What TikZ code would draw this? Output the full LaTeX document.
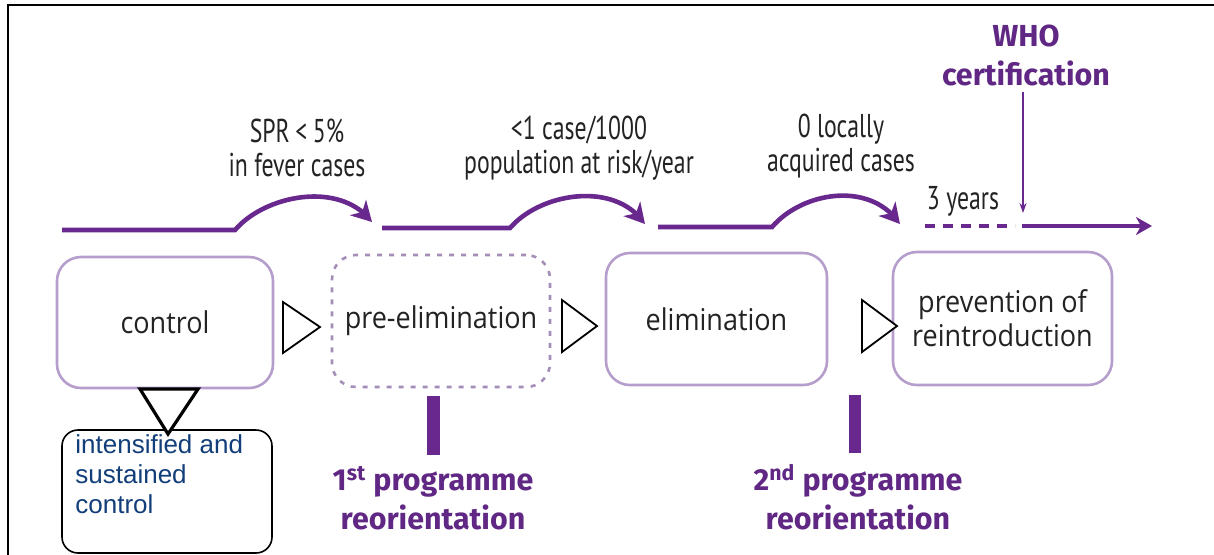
\documentclass[tikz,border=0pt]{standalone}
\usepackage{fontspec}
\usetikzlibrary{arrows.meta,bending}
\setmainfont{Liberation Sans}
\newfontfamily\condfont[FakeStretch=0.72]{PT Sans}
\newfontfamily\boxfont[FakeStretch=0.9]{Open Sans}
\newfontfamily\boldfont{Fira Sans}
\definecolor{pmain}{RGB}{104,40,142}
\definecolor{ptext}{RGB}{96,40,132}
\definecolor{pbox}{RGB}{182,158,204}
\definecolor{ink}{RGB}{35,35,35}
\definecolor{iblue}{RGB}{18,62,122}
\tikzset{
  stage/.style={draw=pbox, line width=1.3pt, rounded corners=12pt, text=ink,
    font=\boxfont\fontsize{15}{17}\selectfont, align=center, inner sep=0pt},
  tl/.style={draw=pmain, line width=2.3pt},
  tlarrow/.style={tl, -{Stealth[length=10pt,width=11pt,inset=3pt]}},
  cond/.style={font=\condfont\fontsize{16.5}{17}\selectfont, text=ink, align=center, inner sep=0pt},
  bold/.style={font=\boldfont\bfseries\fontsize{15.2}{19.5}\selectfont, text=ptext, align=center, inner sep=0pt},
  tri/.style={draw=black, line width=0.9pt, fill=white, line join=miter},
  bar/.style={fill=pmain}
}
\begin{document}
\begin{tikzpicture}[x=0.5pt,y=-0.5pt]
\useasboundingbox (0,0) rectangle (1214,554);
\fill[white] (0,0) rectangle (1214,554);
\draw[line width=1.2pt] (8,556) -- (8,5) -- (1216,5);

% stage boxes
\node[stage, minimum width=108pt, minimum height=65.5pt] (control) at (165,322.5) {control};
\node[stage, draw=pbox!90!black, dash pattern=on 2.5pt off 3.5pt, minimum width=109pt, minimum height=66pt] (preelim) at (441,321) {pre-elimination};
\node[stage, minimum width=110.5pt, minimum height=66pt] (elim) at (716.5,319) {elimination};
\node[stage, minimum width=109.5pt, minimum height=66.5pt] (prev) at (1002.5,318.5) {prevention of\\reintroduction};

% triangles between stages
\draw[tri] (283,302) -- (320,327) -- (283,353) -- cycle;
\draw[tri] (562,300) -- (597,326) -- (562,352) -- cycle;
\draw[tri] (862,300) -- (897,326) -- (862,352) -- cycle;

% intensified box
\node[draw=black, line width=0.8pt, rounded corners=8pt, minimum width=105pt, minimum height=61.5pt, inner sep=0pt] (intens) at (167,491.5) {};
\node[anchor=north west, inner sep=0pt, align=left, text=iblue, font=\fontsize{13}{15}\selectfont] (intext) at (75,434) {intensified and\\sustained\\control};
\draw[tri, line width=1.6pt] (140,389) -- (198,389) -- (168,434) -- cycle;

% timeline
\coordinate (a0) at (62,230); \coordinate (a1) at (235,230); \coordinate (a2) at (372,222);
\coordinate (b0) at (382,228); \coordinate (b1) at (510,228); \coordinate (b2) at (645,224);
\coordinate (c0) at (658,227); \coordinate (c1) at (772,227); \coordinate (c2) at (900,224);
\coordinate (d0) at (925,226); \coordinate (d1) at (1015,226);
\coordinate (e0) at (1022,226); \coordinate (e1) at (1152,226);
\draw[tlarrow] (a0) -- (a1) .. controls (265,195) and (340,180) .. (a2);
\draw[tlarrow] (b0) -- (b1) .. controls (540,193) and (615,180) .. (b2);
\draw[tlarrow] (c0) -- (c1) .. controls (802,192) and (870,180) .. (c2);
\draw[tl, dash pattern=on 5pt off 4pt] (d0) -- (d1);
\draw[tl, -{Stealth[length=8pt,width=9pt,inset=2.5pt]}] (e0) -- (e1);

% threshold labels
\node[cond] (lab1) at (297,148) {SPR\,<\,5\%\\in fever cases};
\node[cond] (lab2) at (579,148) {<1 case/1000\\population at risk/year};
\node[cond] (lab3) at (841,146) {0 locally\\acquired cases};
\node[cond] (years) at (963,201) {3 years};

% WHO certification
\node[bold] (who) at (1026,55) {WHO\\certification};
\coordinate (whoend) at (1023,213);
\draw[draw=pmain, line width=0.6pt, -{Stealth[length=5pt,width=3.5pt]}] (who.south -| whoend) ++(0,6) -- (whoend);

% reorientation bars and labels
\fill[bar] (427,396) rectangle (440,455);
\fill[bar] (849,395) rectangle (861,453);
\node[bold] (reo1) at (433,498) {1\textsuperscript{st} programme\\reorientation};
\node[bold] (reo2) at (858,497) {2\textsuperscript{nd} programme\\reorientation};
\end{tikzpicture}
\end{document}
